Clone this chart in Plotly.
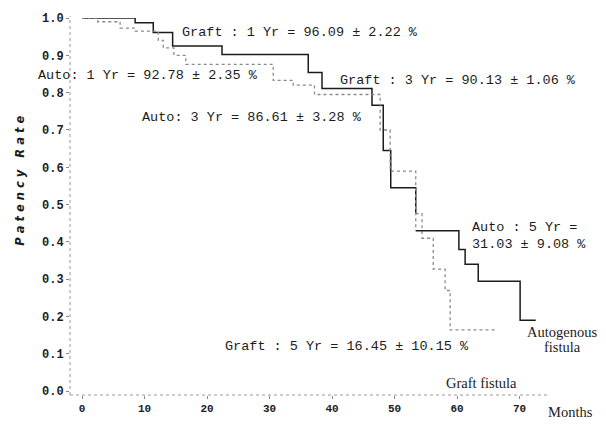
import plotly.graph_objects as go

# ---- data ----
graft_months = [0, 8.5, 11.4, 14.5, 22.4, 36.2, 38.4, 46.4, 48.2, 49.4, 53.4, 54.4, 56.2, 58.1, 58.9, 66.4]
graft_surv = [1.0, 0.987, 0.961, 0.925, 0.902, 0.854, 0.811, 0.766, 0.645, 0.545, 0.476, 0.41, 0.327, 0.27, 0.1645, 0.1645]

auto_months = [0, 2.5, 6.1, 8.5, 12.2, 13.0, 14.7, 16.6, 30.6, 33.8, 37.2, 47.7, 49.3, 53.4, 60.3, 61.3, 63.4, 70.1, 72.6]
auto_surv = [1.0, 0.99, 0.973, 0.965, 0.94, 0.92, 0.90, 0.876, 0.833, 0.82, 0.795, 0.70, 0.59, 0.43, 0.38, 0.34, 0.295, 0.19, 0.19]

x_ticks = [0, 10, 20, 30, 40, 50, 60, 70]
x_ticktext = ["0", "10", "20", "30", "40", "50", "60", "70"]
y_ticks = [0.0, 0.1, 0.2, 0.3, 0.4, 0.5, 0.6, 0.7, 0.8, 0.9, 1.0]
y_ticktext = ["0.0", "0.1", "0.2", "0.3", "0.4", "0.5", "0.6", "0.7", "0.8", "0.9", "1.0"]

graft_split = 10   # index where the scanned graft line turns faint
auto_split = 13    # index where the scanned auto line turns dark

# ---- layout geometry ----
W, H = 606, 428
L, R, T, B = 70, 56, 15, 33
PW, PH = W - L - R, H - T - B

def P(px, py):
    return (px - L) / PW, (H - B - py) / PH

DARK = "#1c1c1c"
GRAY = "#8a8a8a"
MONO = "Liberation Mono"
SERIF = "Liberation Serif"

fig = go.Figure()

fig.add_trace(go.Scatter(x=graft_months[:graft_split + 1], y=graft_surv[:graft_split + 1],
                         mode="lines", line=dict(shape="hv", color=DARK, width=1.5),
                         cliponaxis=False, showlegend=False))
fig.add_trace(go.Scatter(x=graft_months[graft_split:], y=graft_surv[graft_split:],
                         mode="lines", line=dict(shape="hv", color=GRAY, width=1.3, dash="dot"),
                         cliponaxis=False, showlegend=False))
fig.add_trace(go.Scatter(x=auto_months[:auto_split + 1], y=auto_surv[:auto_split + 1],
                         mode="lines", line=dict(shape="hv", color=GRAY, width=1.3, dash="dot"),
                         cliponaxis=False, showlegend=False))
fig.add_trace(go.Scatter(x=auto_months[auto_split:], y=auto_surv[auto_split:],
                         mode="lines", line=dict(shape="hv", color=DARK, width=1.5),
                         cliponaxis=False, showlegend=False))

# dotted axis lines
fig.add_shape(type="line", xref="paper", yref="paper", x0=0, x1=0, y0=0, y1=1.005,
              line=dict(color="#999999", width=1, dash="dot"))
fig.add_shape(type="line", xref="paper", yref="paper", x0=0, x1=1.0, y0=0, y1=0,
              line=dict(color="#999999", width=1, dash="dot"))

def note(text, px, py, anchor="left", size=13.5, family=MONO, color=DARK):
    x, y = P(px, py)
    fig.add_annotation(text=text, x=x, y=y, xref="paper", yref="paper",
                       xanchor=anchor, yanchor="middle", showarrow=False,
                       font=dict(family=family, size=size, color=color))

note("Graft : 1 Yr = 96.09 ± 2.22 %", 180, 30)
note("Auto: 1 Yr = 92.78 ± 2.35 %", 36, 73)
note("Graft : 3 Yr = 90.13 ± 1.06 %", 338, 78)
note("Auto: 3 Yr = 86.61 ± 3.28 %", 140, 115)
note("Auto : 5 Yr =", 470, 226)
note("31.03 ± 9.08 %", 470, 243)
note("Autogenous", 562, 332, anchor="center", size=14.5, family=SERIF)
note("fistula", 562, 347, anchor="center", size=14.5, family=SERIF)
note("Graft : 5 Yr = 16.45 ± 10.15 %", 223, 346)
note("Graft fistula", 481, 383, anchor="center", size=14.5, family=SERIF)
note("Months", 546, 412, size=14.5, family=SERIF)

x, y = P(20, 179)
fig.add_annotation(text="P a t e n c y   R a t e", x=x, y=y, xref="paper", yref="paper",
                   xanchor="center", yanchor="middle", showarrow=False, textangle=-90,
                   font=dict(family="DejaVu Sans", size=11.5, color=DARK, weight="bold",
                             style="italic"))

fig.update_layout(
    width=W, height=H,
    margin=dict(l=L, r=R, t=T, b=B, pad=0),
    paper_bgcolor="white", plot_bgcolor="white",
    showlegend=False,
    xaxis=dict(range=[-1.92, -1.92 + PW / 6.25], showgrid=False, zeroline=False, showline=False,
               tickvals=x_ticks, ticktext=x_ticktext, ticks="outside", ticklen=3,
               tickcolor="#888888", tickwidth=1,
               tickfont=dict(family=MONO, size=11, color=DARK, weight="bold")),
    yaxis=dict(range=[-0.01, 1.0], showgrid=False, zeroline=False, showline=False,
               tickvals=y_ticks, ticktext=y_ticktext, ticks="outside", ticklen=3,
               tickcolor="#888888", tickwidth=1,
               tickfont=dict(family=MONO, size=12, color=DARK, weight="bold")),
)

fig.write_html("out.html", config={"displayModeBar": False},
               post_script="document.body.style.margin='0';document.body.style.overflow='hidden';")
